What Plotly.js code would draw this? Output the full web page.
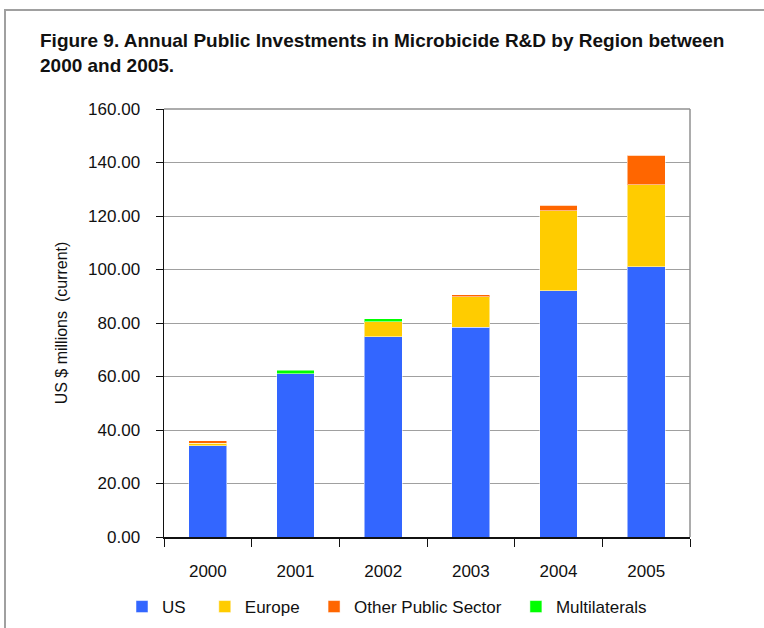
<!DOCTYPE html>
<html>
<head>
<meta charset="utf-8">
<script src="https://cdn.plot.ly/plotly-3.0.1.min.js"></script>
<style>
  html, body { margin: 0; padding: 0; background: #fff; }
  #frame { position: absolute; left: 4px; top: 9px; width: 800px; height: 700px;
           border-top: 2px solid #a0a0a0; border-left: 2px solid #a0a0a0; }
  #plot { position: absolute; left: 0; top: 0; width: 764px; height: 628px; }
</style>
</head>
<body>
<div id="frame"></div>
<div id="plot"></div>
<script>
// values (US$ millions, current)
const years = ['2000', '2001', '2002', '2003', '2004', '2005'];
const us = [34.1, 61.0, 74.9, 78.4, 92.1, 101.0];
const europe = [1.0, 0, 5.5, 11.4, 29.9, 30.7];
const otherPublic = [0.8, 0, 0, 0.8, 2.1, 11.1];
const multilaterals = [0, 1.3, 1.2, 0, 0, 0];
const yTicks = [0, 20, 40, 60, 80, 100, 120, 140, 160];

const font = "'Liberation Sans', Arial, sans-serif";
const nb = '\u00a0';

function series(name, vals, color) {
  return {
    x: years, y: vals, name: name, type: 'bar',
    marker: { color: color, line: { color: 'rgba(255,255,255,0.5)', width: 1 } }
  };
}

// trailing no-break spaces widen the legend gaps like the original
const traces = [
  series('US' + nb.repeat(3), us, '#3366ff'),
  series('Europe' + nb.repeat(2), europe, '#ffcc00'),
  series('Other Public Sector' + nb.repeat(2), otherPublic, '#ff6600'),
  series('Multilaterals', multilaterals, '#00ff00')
];

const layout = {
  width: 764, height: 628,
  paper_bgcolor: 'rgba(0,0,0,0)', plot_bgcolor: '#fff',
  margin: { l: 164, r: 74, t: 109, b: 91 },
  font: { family: font, size: 17, color: '#111' },
  barmode: 'stack',
  bargap: 0.57,
  showlegend: true,
  annotations: [{
    text: 'Figure 9. Annual Public Investments in Microbicide R&D by Region between<br>2000 and 2005.',
    font: { family: font, size: 19, color: '#111', weight: 'bold' },
    xref: 'paper', yref: 'paper', x: (38 - 164) / 526, xanchor: 'left',
    y: 1 + (109 - 28) / 428, yanchor: 'top', align: 'left', showarrow: false
  }],
  xaxis: {
    type: 'category',
    showline: true, linecolor: '#111', linewidth: 1.5,
    ticks: 'outside', tickson: 'boundaries', ticklen: 8, tickcolor: '#111',
    ticklabelstandoff: 18,
    showgrid: false, zeroline: false
  },
  yaxis: {
    range: [0, 160], tickvals: yTicks, tickformat: '.2f',
    showline: true, linecolor: '#111', linewidth: 1.5,
    ticks: 'outside', ticklen: 7, tickcolor: '#111',
    ticklabelstandoff: 12,
    gridcolor: '#a0a0a0', gridwidth: 1, zeroline: false,
    title: { text: 'US $ millions  (current)', standoff: 16, font: { size: 16 } }
  },
  legend: {
    orientation: 'h', x: 387 / 764, xanchor: 'center', xref: 'container',
    y: 1 - 607 / 628, yref: 'container', yanchor: 'middle',
    font: { size: 17 }, traceorder: 'normal', itemwidth: 30
  },
  shapes: [
    { type: 'line', xref: 'paper', yref: 'paper', x0: 0, x1: 1, y0: 1, y1: 1,
      line: { color: '#909090', width: 1.5 } },
    { type: 'line', xref: 'paper', yref: 'paper', x0: 1, x1: 1, y0: 0, y1: 1,
      line: { color: '#909090', width: 1.5 } }
  ]
};

Plotly.newPlot('plot', traces, layout, { displayModeBar: false, staticPlot: true });
</script>
</body>
</html>
